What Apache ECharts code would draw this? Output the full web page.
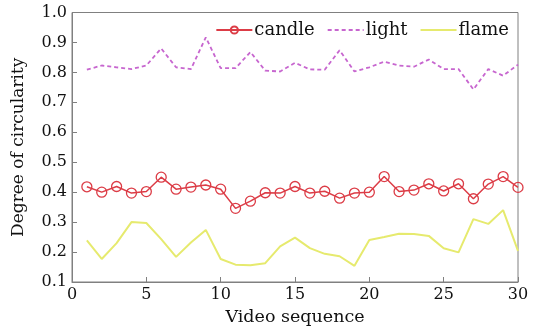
<!DOCTYPE html>
<html>
<head>
<meta charset="utf-8">
<script src="https://cdn.jsdelivr.net/npm/echarts@6/dist/echarts.min.js"></script>
<style>html,body{margin:0;padding:0;background:#fff}#c{width:545px;height:335px}</style>
</head>
<body>
<div id="c"></div>
<script>
var seq = [1,2,3,4,5,6,7,8,9,10,11,12,13,14,15,16,17,18,19,20,21,22,23,24,25,26,27,28,29,30];
var candle = [0.418,0.400,0.419,0.397,0.402,0.450,0.410,0.417,0.424,0.410,0.346,0.370,0.398,0.397,0.419,0.397,0.403,0.380,0.397,0.400,0.452,0.402,0.407,0.428,0.404,0.428,0.378,0.427,0.452,0.416];
var light = [0.809,0.823,0.817,0.811,0.823,0.880,0.817,0.811,0.917,0.814,0.814,0.868,0.806,0.803,0.832,0.810,0.809,0.874,0.803,0.817,0.836,0.823,0.819,0.843,0.811,0.811,0.743,0.811,0.789,0.826];
var flame = [0.239,0.177,0.230,0.300,0.297,0.243,0.184,0.232,0.274,0.177,0.158,0.156,0.163,0.219,0.248,0.213,0.194,0.186,0.154,0.240,0.250,0.261,0.260,0.254,0.213,0.199,0.310,0.294,0.340,0.204];
var yTicks = ['0.1','0.2','0.3','0.4','0.5','0.6','0.7','0.8','0.9','1.0'];

function pairs(v){ return seq.map(function(x,i){ return [x, v[i]]; }); }
var FONT = 'DejaVu Serif';
var chart = echarts.init(document.getElementById('c'));
chart.setOption({
  animation: false,
  textStyle: {fontFamily: FONT, color: '#111'},
  grid: {left: 72, right: 27, top: 12.5, bottom: 53, show: true, borderColor: '#808080', borderWidth: 1},
  legend: {
    right: 31, top: 16, itemWidth: 36, itemHeight: 9, itemGap: 12,
    textStyle: {fontFamily: FONT, fontSize: 18, color: '#111', padding: [0,0,0,-3]},
    data: [
      {name: 'candle'},
      {name: 'light', itemStyle: {opacity: 0}},
      {name: 'flame', itemStyle: {opacity: 0}}
    ]
  },
  xAxis: {
    type: 'value', min: 0, max: 30, interval: 5,
    name: 'Video sequence', nameLocation: 'middle', nameGap: 26,
    nameTextStyle: {fontFamily: FONT, fontSize: 17.5, color: '#111'},
    axisLine: {lineStyle: {color: '#808080'}},
    axisTick: {inside: true, length: 5, lineStyle: {color: '#808080'}},
    axisLabel: {fontFamily: FONT, fontSize: 16, color: '#111', margin: 5},
    splitLine: {show: false}
  },
  yAxis: {
    type: 'value', min: 0.1, max: 1.0, interval: 0.1,
    name: 'Degree of circularity', nameLocation: 'middle', nameGap: 45,
    nameTextStyle: {fontFamily: FONT, fontSize: 17, color: '#111'},
    axisLine: {show: true, lineStyle: {color: '#808080'}},
    axisTick: {show: true, inside: true, length: 5, lineStyle: {color: '#808080'}},
    axisLabel: {fontFamily: FONT, fontSize: 16, color: '#111', margin: 5,
      formatter: function(v){ var s = (Math.round(v*10)/10).toFixed(1); return yTicks.indexOf(s) >= 0 ? s : ''; }},
    splitLine: {show: false}
  },
  series: [
    {name: 'candle', type: 'line', data: pairs(candle), symbol: 'circle', symbolSize: 10,
     lineStyle: {color: '#dc3c46', width: 1.5},
     itemStyle: {color: 'rgba(255,255,255,0)', borderColor: '#dc3c46', borderWidth: 1.3}},
    {name: 'light', type: 'line', data: pairs(light), symbol: 'none',
     lineStyle: {color: '#c766cf', width: 1.8, type: [4,3]},
     itemStyle: {color: '#c766cf'}},
    {name: 'flame', type: 'line', data: pairs(flame), symbol: 'none',
     lineStyle: {color: '#e6ea6e', width: 2},
     itemStyle: {color: '#e6ea6e'}}
  ]
});
</script>
</body>
</html>
